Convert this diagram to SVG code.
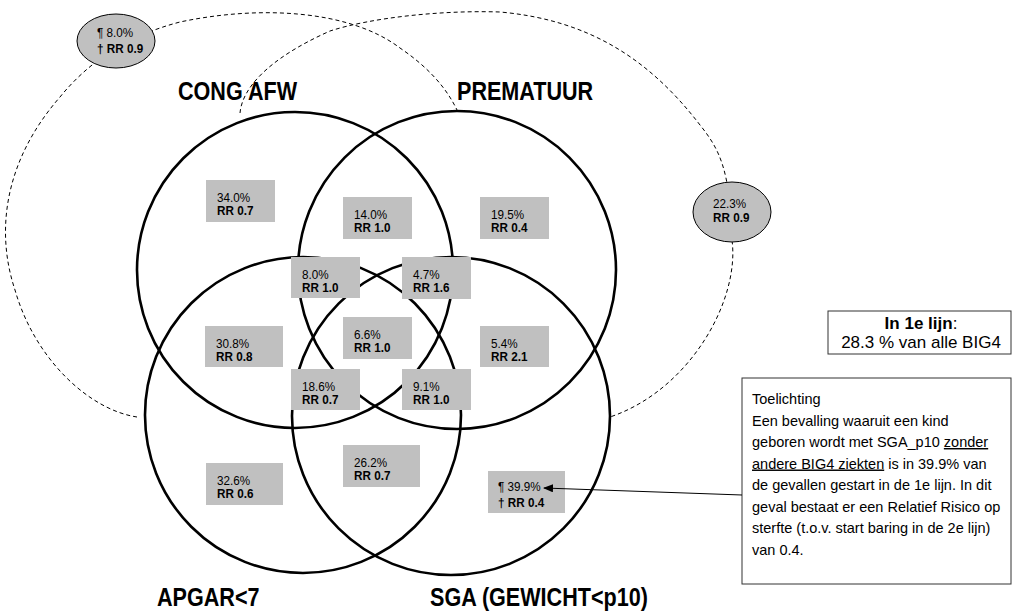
<svg xmlns="http://www.w3.org/2000/svg" width="1014" height="611" viewBox="0 0 1014 611">
<style>
.venn{fill:none;stroke:#000;stroke-width:2.6}
.dash{fill:none;stroke:#000;stroke-width:1;stroke-dasharray:4 3}
.box{fill:#c0c0c0}
.ell{fill:#c0c0c0;stroke:#000;stroke-width:1}
.lbl{font-family:"Liberation Sans",Arial,sans-serif;font-weight:bold;font-size:26px;fill:#000}
.v{font-family:"Liberation Sans",Arial,sans-serif;font-size:13px;fill:#000}
.b{font-weight:bold}
.note{font-family:"Liberation Sans",Arial,sans-serif;font-size:14.5px;fill:#000}
.frame{fill:#fff;stroke:#333;stroke-width:1}
</style>
<defs>
<marker id="ah" markerWidth="10" markerHeight="8" refX="9" refY="4" orient="auto" markerUnits="userSpaceOnUse">
<path d="M0,0 L10,4 L0,8 Z" fill="#000"/>
</marker>
</defs>
<rect width="1014" height="611" fill="#fff"/>
<g id="circles">
<circle id="cong" class="venn" cx="295" cy="270" r="158"/>
<circle id="prem" class="venn" cx="457" cy="270" r="159"/>
<circle id="apgar" class="venn" cx="303" cy="415" r="158"/>
<circle id="sga" class="venn" cx="451" cy="416" r="159"/>
</g>
<g id="connectors">
<path class="dash" d="M137,417 C90,410 35,360 15,290 C-5,230 5,160 60,97 C90,60 130,35 180,22 C260,5 350,10 400,48 C425,65 445,85 457,110"/>
<path class="dash" d="M240,113 C242,90 265,60 330,31 C370,18 440,10 500,12 C590,20 650,60 700,125 C720,150 730,170 732,240 C740,300 690,390 610,417"/>
</g>
<g id="labels">
<text class="lbl" transform="translate(178,100) scale(0.83,1)">CONG AFW</text>
<text class="lbl" transform="translate(457,100) scale(0.83,1)">PREMATUUR</text>
<text class="lbl" transform="translate(157,606) scale(0.83,1)">APGAR&lt;7</text>
<text class="lbl" transform="translate(430,606) scale(0.83,1)">SGA (GEWICHT&lt;p10)</text>
</g>
<g id="n-cong-outer"><ellipse class="ell" cx="116" cy="41" rx="39" ry="27"/><text class="v" transform="translate(97,37) scale(0.9,1)">¶ 8.0%</text><text class="v b" transform="translate(97,53) scale(0.9,1)">† RR 0.9</text></g>
<g id="n-prem-outer"><ellipse class="ell" cx="732" cy="212" rx="39" ry="30"/><text class="v" transform="translate(713,207.5) scale(0.9,1)">22.3%</text><text class="v b" transform="translate(713,222) scale(0.9,1)">RR 0.9</text></g>
<g id="n-34"><rect class="box" x="206" y="180" width="69" height="42"/><text class="v" transform="translate(217,201.5) scale(0.9,1)">34.0%</text><text class="v b" transform="translate(217,215) scale(0.9,1)">RR 0.7</text></g>
<g id="n-14"><rect class="box" x="343" y="197" width="69" height="42"/><text class="v" transform="translate(354,218.5) scale(0.9,1)">14.0%</text><text class="v b" transform="translate(354,232) scale(0.9,1)">RR 1.0</text></g>
<g id="n-19"><rect class="box" x="480" y="197" width="69" height="42"/><text class="v" transform="translate(491,218.5) scale(0.9,1)">19.5%</text><text class="v b" transform="translate(491,232) scale(0.9,1)">RR 0.4</text></g>
<g id="n-8"><rect class="box" x="291" y="257" width="69" height="41"/><text class="v" transform="translate(302,278.5) scale(0.9,1)">8.0%</text><text class="v b" transform="translate(302,292) scale(0.9,1)">RR 1.0</text></g>
<g id="n-47"><rect class="box" x="402" y="257" width="69" height="42"/><text class="v" transform="translate(413,278.5) scale(0.9,1)">4.7%</text><text class="v b" transform="translate(413,292) scale(0.9,1)">RR 1.6</text></g>
<g id="n-66"><rect class="box" x="343" y="317" width="69" height="42"/><text class="v" transform="translate(354,338.5) scale(0.9,1)">6.6%</text><text class="v b" transform="translate(354,352) scale(0.9,1)">RR 1.0</text></g>
<g id="n-308"><rect class="box" x="205" y="326" width="78" height="41"/><text class="v" transform="translate(216,347.5) scale(0.9,1)">30.8%</text><text class="v b" transform="translate(216,361) scale(0.9,1)">RR 0.8</text></g>
<g id="n-54"><rect class="box" x="480" y="326" width="69" height="41"/><text class="v" transform="translate(491,347.5) scale(0.9,1)">5.4%</text><text class="v b" transform="translate(491,361) scale(0.9,1)">RR 2.1</text></g>
<g id="n-186"><rect class="box" x="291" y="369" width="69" height="41"/><text class="v" transform="translate(302,390.5) scale(0.9,1)">18.6%</text><text class="v b" transform="translate(302,404) scale(0.9,1)">RR 0.7</text></g>
<g id="n-91"><rect class="box" x="402" y="369" width="69" height="41"/><text class="v" transform="translate(413,390.5) scale(0.9,1)">9.1%</text><text class="v b" transform="translate(413,404) scale(0.9,1)">RR 1.0</text></g>
<g id="n-326"><rect class="box" x="206" y="463" width="77" height="42"/><text class="v" transform="translate(217,484.5) scale(0.9,1)">32.6%</text><text class="v b" transform="translate(217,498) scale(0.9,1)">RR 0.6</text></g>
<g id="n-262"><rect class="box" x="343" y="445" width="77" height="42"/><text class="v" transform="translate(354,466.5) scale(0.9,1)">26.2%</text><text class="v b" transform="translate(354,480) scale(0.9,1)">RR 0.7</text></g>
<g id="n-399"><rect class="box" x="488" y="471" width="77" height="42"/><text class="v" transform="translate(498,490.5) scale(0.9,1)">¶ 39.9%</text><text class="v b" transform="translate(498,507) scale(0.9,1)">† RR 0.4</text></g>
<g id="n-total"><rect class="frame" x="828" y="311" width="183" height="43"/>
<text class="note" x="921" y="329" text-anchor="middle" style="font-size:17px"><tspan font-weight="bold">In 1e lijn</tspan>:</text>
<text class="note" x="921" y="348" text-anchor="middle" style="font-size:17px">28.3 % van alle BIG4</text></g>
<g id="n-note"><rect class="frame" x="742" y="378" width="269" height="206"/>
<text class="note" x="752" y="404">Toelichting</text>
<text class="note" x="752" y="425.5">Een bevalling waaruit een kind</text>
<text class="note" x="752" y="447">geboren wordt met SGA_p10 <tspan text-decoration="underline">zonder</tspan></text>
<text class="note" x="752" y="468.5"><tspan text-decoration="underline">andere BIG4 ziekten</tspan> is in 39.9% van</text>
<text class="note" x="752" y="490">de gevallen gestart in de 1e lijn. In dit</text>
<text class="note" x="752" y="511.5">geval bestaat er een Relatief Risico op</text>
<text class="note" x="752" y="533">sterfte (t.o.v. start baring in de 2e lijn)</text>
<text class="note" x="752" y="554.5">van 0.4.</text>
</g>
<g id="connector-arrow">
<line x1="742" y1="495" x2="544" y2="488" stroke="#000" stroke-width="1" marker-end="url(#ah)"/>
</g>
</svg>
